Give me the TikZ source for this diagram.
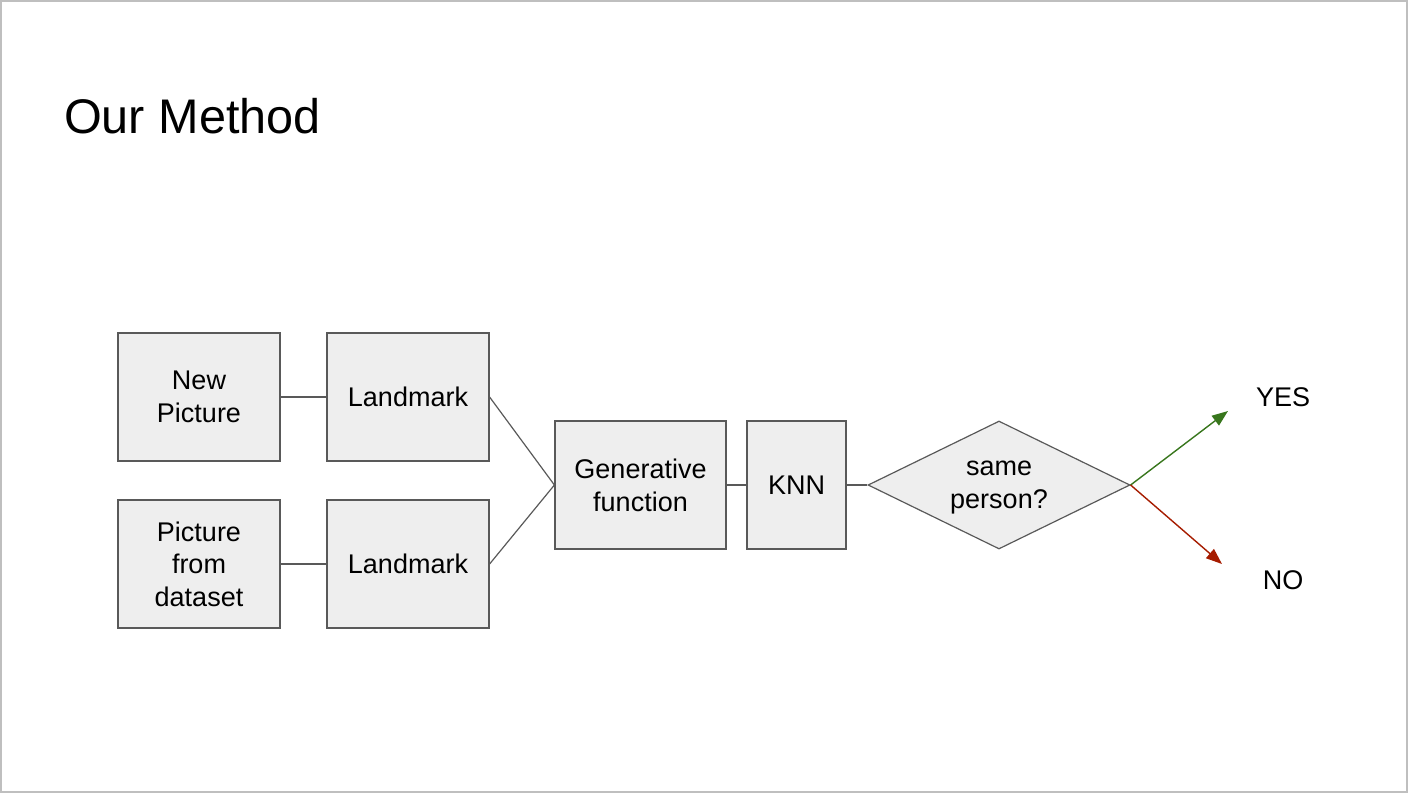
\documentclass[tikz,border=0pt]{standalone}
\usepackage{fontspec}
\setmainfont{Liberation Sans}
\usetikzlibrary{shapes.geometric,arrows.meta}
\definecolor{boxfill}{HTML}{EEEEEE}
\definecolor{boxline}{HTML}{595959}
\definecolor{yesgreen}{HTML}{38761D}
\definecolor{nored}{HTML}{A61C00}
\tikzset{
  stage/.style={draw=boxline,fill=boxfill,line width=0.6pt,inner sep=0pt,
    minimum width=81pt,minimum height=64pt,align=center,text depth=0pt,
    font=\fontsize{13.5}{16.3}\selectfont},
  link/.style={draw=boxline,line width=0.6pt},
  answer/.style={-{Triangle[length=8pt,width=6pt]},line width=0.7pt}
}

\begin{document}
\begin{tikzpicture}[x=0.5pt,y=-0.5pt]
  \useasboundingbox (0,0) rectangle (1408,793);
  \draw[black!25,line width=0.8pt] (1,1) rectangle (1407,792);
  \node[anchor=west,font=\fontsize{24.3}{28}\selectfont] (title) at (57,116) {Our Method};
  \node[stage] (newpic) at (199,397) {New\\Picture};
  \node[stage] (lm1) at (408,397) {Landmark};
  \node[stage] (datapic) at (199,564) {Picture\\from\\dataset};
  \node[stage] (lm2) at (408,564) {Landmark};
  \node[stage,minimum width=85.5pt] (gen) at (640.5,485) {Generative\\function};
  \node[stage,minimum width=49.5pt] (knn) at (796.5,485) {KNN};
  \node[stage,shape=diamond,aspect=2.05,minimum width=131pt,minimum height=64pt] (same) at (999,485) {same\\person?};
  \node[font=\fontsize{13.5}{16}\selectfont] (yes) at (1283,397) {YES};
  \node[font=\fontsize{13.5}{16}\selectfont] (no) at (1283,580) {NO};
  \coordinate (yestip) at (1228,411);
  \coordinate (notip) at (1222,564);
  \draw[link] (newpic) -- (lm1);
  \draw[link] (datapic) -- (lm2);
  \draw[link] (lm1.east) -- (gen.west);
  \draw[link] (lm2.east) -- (gen.west);
  \draw[link] (gen) -- (knn);
  \draw[link] (knn) -- (same);
  \draw[answer,yesgreen] (same.east) -- (yestip);
  \draw[answer,nored] (same.east) -- (notip);
\end{tikzpicture}
\end{document}
